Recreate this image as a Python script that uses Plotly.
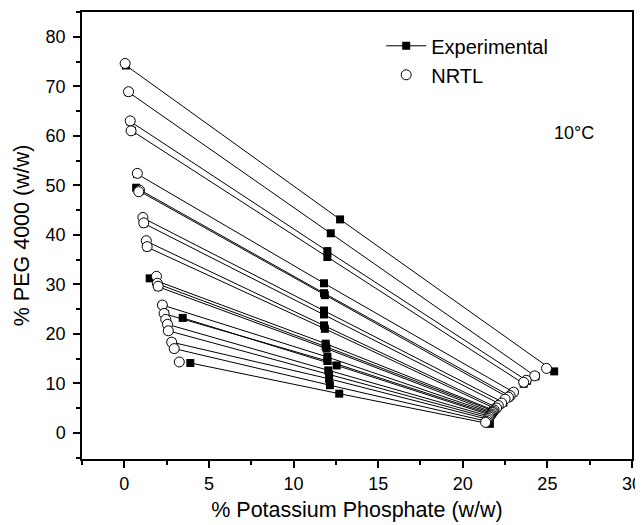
import plotly.graph_objects as go

# Experimental tie lines: top phase, feed, bottom phase  (% salt, % PEG)
exp_top_x = [0.10, 0.25, 0.35, 0.45, 0.75, 0.70, 0.90, 1.10, 1.15, 1.30, 1.35, 1.50, 1.95, 2.00, 2.25, 2.40, 3.45, 2.55, 2.60, 2.80, 2.95, 3.90]
exp_top_y = [74.2, 68.8, 62.9, 61.0, 52.3, 49.5, 48.8, 43.4, 42.3, 38.7, 37.5, 31.2, 30.1, 29.5, 25.8, 24.0, 23.2, 21.9, 20.6, 18.3, 17.0, 14.1]
exp_feed_x = [12.75, 12.2, 12.0, 12.0, 11.8, 11.8, 11.85, 11.8, 11.8, 11.8, 11.85, 11.9, 11.9, 11.95, 12.0, 12.0, 12.55, 12.05, 12.1, 12.1, 12.15, 12.7]
exp_feed_y = [43.1, 40.3, 36.7, 35.5, 30.2, 28.2, 27.8, 24.7, 23.9, 21.7, 21.0, 18.0, 17.4, 17.0, 15.3, 14.5, 13.6, 12.6, 11.8, 10.9, 9.6, 7.9]
exp_bot_x = [25.4, 24.3, 23.8, 23.6, 23.0, 22.8, 22.7, 22.4, 22.2, 22.0, 21.9, 21.8, 21.8, 21.7, 21.7, 21.65, 21.6, 21.6, 21.55, 21.5, 21.45, 21.6]
exp_bot_y = [12.4, 11.4, 10.5, 9.9, 8.2, 7.4, 7.1, 6.1, 5.8, 5.1, 4.9, 4.6, 4.4, 4.2, 4.0, 3.8, 3.6, 3.3, 3.0, 2.7, 2.3, 1.8]

# NRTL calculated phase compositions
nrtl_top_x = [0.05, 0.25, 0.35, 0.40, 0.77, 0.90, 0.85, 1.10, 1.15, 1.30, 1.35, 1.90, 1.95, 2.00, 2.25, 2.35, 2.45, 2.55, 2.60, 2.80, 2.95, 3.25]
nrtl_top_y = [74.6, 68.9, 63.0, 61.0, 52.4, 49.0, 48.7, 43.5, 42.4, 38.8, 37.6, 31.6, 30.2, 29.6, 25.8, 24.1, 22.9, 21.9, 20.6, 18.3, 17.0, 14.3]
nrtl_bot_x = [24.95, 24.25, 23.75, 23.6, 23.0, 22.8, 22.7, 22.5, 22.3, 22.1, 22.0, 21.85, 21.8, 21.75, 21.7, 21.65, 21.6, 21.55, 21.5, 21.45, 21.4, 21.35]
nrtl_bot_y = [13.0, 11.5, 10.6, 10.2, 8.2, 7.5, 7.2, 6.8, 6.0, 5.5, 5.0, 4.6, 4.3, 4.1, 3.8, 3.6, 3.4, 3.2, 2.9, 2.6, 2.3, 2.1]

x_ticks = [0, 5, 10, 15, 20, 25, 30]
y_ticks = [0, 10, 20, 30, 40, 50, 60, 70, 80]

ex, ey = [], []
for i in range(len(exp_top_x)):
    ex += [exp_top_x[i], exp_feed_x[i], exp_bot_x[i], None]
    ey += [exp_top_y[i], exp_feed_y[i], exp_bot_y[i], None]

FONT = "Liberation Sans, Arial, sans-serif"

fig = go.Figure()
fig.add_trace(go.Scatter(
    x=ex, y=ey, mode="lines+markers", name="Experimental",
    line=dict(color="black", width=1),
    marker=dict(symbol="square", size=8, color="black"),
))
fig.add_trace(go.Scatter(
    x=nrtl_top_x + nrtl_bot_x, y=nrtl_top_y + nrtl_bot_y, mode="markers", name="NRTL",
    marker=dict(symbol="circle", size=10, color="white", line=dict(color="black", width=1)),
))

fig.add_annotation(x=26.6, y=60.6, text="10°C", showarrow=False,
                   font=dict(family=FONT, size=18, color="black"))

axis_common = dict(
    showline=True, linecolor="black", linewidth=1.5, mirror=True,
    ticks="outside", ticklen=7, tickwidth=1.5, tickcolor="black",
    showgrid=False, zeroline=False, automargin=False,
    tickfont=dict(family=FONT, size=18, color="black"),
)

fig.update_layout(
    width=643, height=525,
    margin=dict(l=74, r=19, t=4, b=74),
    paper_bgcolor="white", plot_bgcolor="white",
    font=dict(family=FONT, color="black"),
    xaxis=dict(range=[-2.5, 30], tickvals=x_ticks, ticklabelstandoff=1,
               minor=dict(dtick=2.5, tick0=0, ticks="outside", ticklen=4, tickcolor="black", tickwidth=1.5),
               title=dict(text="% Potassium Phosphate (w/w)", font=dict(family=FONT, size=21.5), standoff=9),
               **axis_common),
    yaxis=dict(range=[-5.3, 85], tickvals=y_ticks, ticklabelstandoff=4,
               minor=dict(dtick=5, tick0=0, ticks="outside", ticklen=4, tickcolor="black", tickwidth=1.5),
               title=dict(text="% PEG 4000 (w/w)", font=dict(family=FONT, size=21.5), standoff=10),
               **axis_common),
    legend=dict(x=0.544, y=0.968, xanchor="left", yanchor="top",
                bgcolor="rgba(0,0,0,0)", font=dict(family=FONT, size=20),
                tracegroupgap=0, itemwidth=40),
    showlegend=True,
)

fig.write_html("out.html")
